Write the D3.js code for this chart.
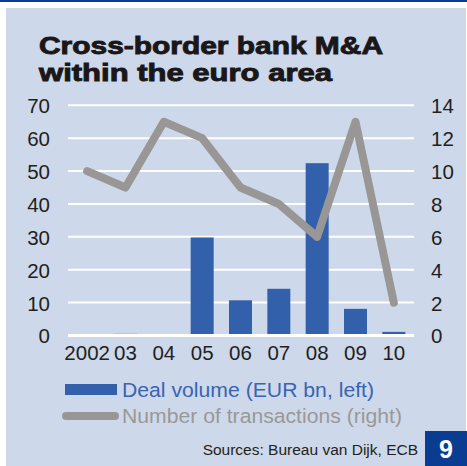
<!DOCTYPE html>
<html>
<head>
	<meta charset="utf-8">
	<title></title>
	<style type="text/css">
		body {
			margin: 0;
			background-color: #fff;
		}
		svg {
			display: block;
		}
		.tick text {
			font-family: "Liberation Sans", Arial, sans-serif;
			font-size: 20.5px;
			fill: #231f20;
		}
	</style>
	<script type="text/javascript" src="https://cdn.jsdelivr.net/npm/d3@7/dist/d3.min.js"></script>
</head>
<body>
	<div id="chart"></div>
	<script type="text/javascript">
		var years = ['2002', '03', '04', '05', '06', '07', '08', '09', '10'];
		var dealVolume = [0, 0.5, 0.2, 29.8, 10.7, 14.2, 52.4, 8.1, 1.1];
		var transactions = [10, 9, 13, 12, 9, 8, 6, 13, 2];
		var leftTicks = [0, 10, 20, 30, 40, 50, 60, 70];
		var rightTicks = [0, 2, 4, 6, 8, 10, 12, 14];

		var width = 467, height = 466;
		var plot = {left: 68, right: 413, top: 105.3, bottom: 335.5};

		var svg = d3.select('#chart')
			.append('svg')
			.attr('width', width)
			.attr('height', height);

		// top rule and panel
		svg.append('rect')
			.attr('x', 0).attr('y', 0)
			.attr('width', width).attr('height', 2)
			.attr('fill', '#0a3d91');

		svg.append('rect')
			.attr('x', 6).attr('y', 8)
			.attr('width', 460).attr('height', height - 8)
			.attr('fill', '#cdd8ea');

		// title, stretched to the width of the original heavy face
		var title = svg.append('text')
			.style('font-family', '"Liberation Sans", Arial, sans-serif')
			.style('font-weight', 'bold')
			.style('font-size', '24px')
			.style('fill', '#1a1718')
			.style('stroke', '#1a1718')
			.style('stroke-width', '0.9px');
		title.append('tspan').attr('x', 39).attr('y', 54)
			.attr('textLength', 344).attr('lengthAdjust', 'spacingAndGlyphs')
			.text('Cross-border bank M&A');
		title.append('tspan').attr('x', 39).attr('y', 81)
			.attr('textLength', 293).attr('lengthAdjust', 'spacingAndGlyphs')
			.text('within the euro area');

		var xScale = d3.scaleBand()
			.domain(years)
			.range([plot.left, plot.right])
			.paddingInner(0.4)
			.paddingOuter(0.2);

		var yLeft = d3.scaleLinear()
			.domain([0, 70])
			.range([plot.bottom, plot.top]);

		var yRight = d3.scaleLinear()
			.domain([0, 14])
			.range([plot.bottom, plot.top]);

		// gridlines
		svg.selectAll('.grid')
			.data(leftTicks)
			.enter()
			.append('line')
			.attr('class', 'grid')
			.attr('x1', plot.left)
			.attr('x2', plot.right + 1)
			.attr('y1', function(d){ return yLeft(d); })
			.attr('y2', function(d){ return yLeft(d); })
			.attr('stroke', '#fff')
			.attr('stroke-width', function(d){ return d == 0 ? 3 : 2; });

		// bars
		svg.selectAll('.bar')
			.data(dealVolume)
			.enter()
			.append('rect')
			.attr('class', 'bar')
			.attr('x', function(d, i){ return xScale(years[i]); })
			.attr('y', function(d){ return yLeft(d); })
			.attr('width', xScale.bandwidth())
			.attr('height', function(d){ return Math.max(0, plot.bottom - 1.5 - yLeft(d)); })
			.attr('fill', '#3360ab');

		// line
		var line = d3.line()
			.x(function(d, i){ return xScale(years[i]) + xScale.bandwidth() / 2; })
			.y(function(d){ return yRight(d); });

		svg.append('path')
			.datum(transactions)
			.attr('d', line)
			.attr('fill', 'none')
			.attr('stroke', '#999795')
			.attr('stroke-width', 8)
			.attr('stroke-linejoin', 'round')
			.attr('stroke-linecap', 'round');

		// axes
		var leftAxis = d3.axisLeft(yLeft).tickValues(leftTicks).tickSize(0).tickPadding(0);
		svg.append('g')
			.attr('transform', 'translate(50,0)')
			.call(leftAxis)
			.call(function(g){ g.select('.domain').remove(); })
			.selectAll('text').attr('dy', '0.36em');

		var rightAxis = d3.axisRight(yRight).tickValues(rightTicks).tickSize(0).tickPadding(0);
		svg.append('g')
			.attr('transform', 'translate(431,0)')
			.call(rightAxis)
			.call(function(g){ g.select('.domain').remove(); })
			.selectAll('text').attr('dy', '0.36em');

		var xAxis = d3.axisBottom(xScale).tickSize(0).tickPadding(0);
		svg.append('g')
			.attr('transform', 'translate(0,345)')
			.call(xAxis)
			.call(function(g){ g.select('.domain').remove(); })
			.selectAll('text').attr('dy', '0.71em');

		// legend
		svg.append('rect')
			.attr('x', 65).attr('y', 384)
			.attr('width', 52).attr('height', 11)
			.attr('fill', '#3360ab');
		svg.append('text')
			.attr('x', 122).attr('y', 397)
			.attr('textLength', 252).attr('lengthAdjust', 'spacingAndGlyphs')
			.style('font-family', '"Liberation Sans", Arial, sans-serif')
			.style('font-size', '20.5px')
			.style('fill', '#3a64b2')
			.text('Deal volume (EUR bn, left)');

		svg.append('line')
			.attr('x1', 66).attr('x2', 115)
			.attr('y1', 416).attr('y2', 416)
			.attr('stroke', '#999795')
			.attr('stroke-width', 8)
			.attr('stroke-linecap', 'round');
		svg.append('text')
			.attr('x', 122).attr('y', 423)
			.attr('textLength', 280).attr('lengthAdjust', 'spacingAndGlyphs')
			.style('font-family', '"Liberation Sans", Arial, sans-serif')
			.style('font-size', '20.5px')
			.style('fill', '#9a9896')
			.text('Number of transactions (right)');

		// source and page number
		svg.append('text')
			.attr('x', 418).attr('y', 455)
			.attr('text-anchor', 'end')
			.style('font-family', '"Liberation Sans", Arial, sans-serif')
			.style('font-size', '15.5px')
			.style('fill', '#231f20')
			.text('Sources: Bureau van Dijk, ECB');

		svg.append('rect')
			.attr('x', 425).attr('y', 431)
			.attr('width', 42).attr('height', 35)
			.attr('fill', '#0a3d91');
		svg.append('text')
			.attr('x', 446).attr('y', 458)
			.attr('text-anchor', 'middle')
			.style('font-family', '"Liberation Sans", Arial, sans-serif')
			.style('font-weight', 'bold')
			.style('font-size', '25px')
			.style('fill', '#fff')
			.text('9');
	</script>
</body>
</html>
